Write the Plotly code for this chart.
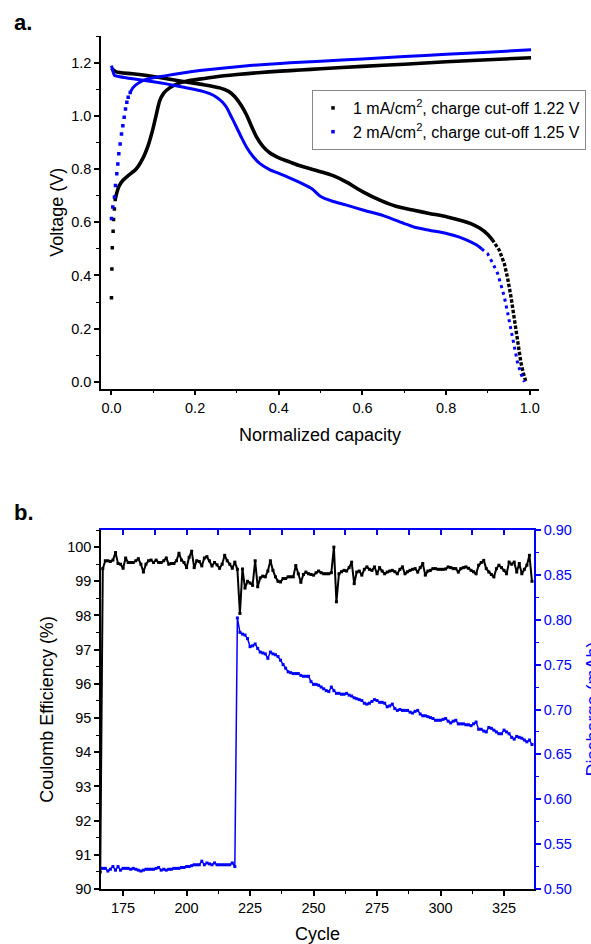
import plotly.graph_objects as go

# ---------------- Panel a: voltage profiles ----------------
# 1 mA/cm2 (black)
blk_dots_x = [0.0, 0.001, 0.002, 0.004, 0.005, 0.007, 0.009]
blk_dots_y = [0.316, 0.424, 0.504, 0.566, 0.61, 0.65, 0.685]
blk_charge_x = [0.009, 0.011, 0.018, 0.027, 0.04, 0.059, 0.075, 0.088, 0.099, 0.108, 0.115, 0.125,
                0.139, 0.16, 0.179, 0.21, 0.251, 0.3, 0.35, 0.403, 0.451, 0.5, 0.6, 0.7, 0.8, 0.9, 1.003]
blk_charge_y = [0.685, 0.70, 0.735, 0.757, 0.775, 0.80, 0.84, 0.89, 0.95, 1.01, 1.055, 1.085,
                1.105, 1.122, 1.130, 1.138, 1.147, 1.155, 1.162, 1.168, 1.172, 1.177, 1.186, 1.194, 1.203, 1.211, 1.218]
blk_dis_x = [0.0, 0.011, 0.05, 0.1, 0.15, 0.179, 0.22, 0.259, 0.28, 0.295, 0.31, 0.323, 0.335, 0.347,
             0.362, 0.379, 0.403, 0.427, 0.451, 0.5, 0.53, 0.563, 0.6, 0.643, 0.68, 0.723, 0.76, 0.803,
             0.84, 0.859, 0.88, 0.899, 0.91]
blk_dis_y = [1.178, 1.165, 1.158, 1.148, 1.135, 1.127, 1.117, 1.105, 1.092, 1.072, 1.04, 1.003, 0.96, 0.92,
             0.885, 0.86, 0.84, 0.826, 0.812, 0.79, 0.775, 0.75, 0.715, 0.682, 0.66, 0.645, 0.633, 0.62,
             0.605, 0.595, 0.578, 0.555, 0.535]
blk_tail_x = [0.91, 0.927, 0.939, 0.947, 0.955, 0.961, 0.967, 0.973, 0.979, 0.985, 0.991]
blk_tail_y = [0.535, 0.495, 0.445, 0.39, 0.32, 0.255, 0.195, 0.13, 0.07, 0.03, 0.0]

# 2 mA/cm2 (blue)
blu_dots_x = [0.0, 0.0032, 0.0072, 0.0096, 0.0128, 0.0152, 0.0176, 0.0208, 0.024, 0.0272, 0.0304,
              0.0336, 0.0368, 0.04, 0.0448]
blu_dots_y = [0.614, 0.657, 0.695, 0.738, 0.782, 0.819, 0.857, 0.894, 0.932, 0.963, 0.995,
              1.026, 1.051, 1.07, 1.088]
blu_charge_x = [0.0448, 0.051, 0.06, 0.075, 0.1, 0.131, 0.17, 0.211, 0.27, 0.331, 0.403, 0.451, 0.5,
                0.6, 0.7, 0.8, 0.9, 1.003]
blu_charge_y = [1.088, 1.105, 1.118, 1.132, 1.143, 1.151, 1.161, 1.17, 1.18, 1.189, 1.197, 1.201, 1.205,
                1.214, 1.223, 1.231, 1.239, 1.248]
blu_dis_x = [0.0, 0.004, 0.007, 0.02, 0.051, 0.1, 0.131, 0.17, 0.211, 0.235, 0.251, 0.265, 0.275, 0.287,
             0.299, 0.311, 0.323, 0.338, 0.355, 0.378, 0.403, 0.427, 0.451, 0.48, 0.499, 0.53, 0.56,
             0.603, 0.65, 0.7, 0.723, 0.76, 0.803, 0.83, 0.851, 0.872, 0.885]
blu_dis_y = [1.189, 1.165, 1.152, 1.147, 1.139, 1.128, 1.12, 1.108, 1.095, 1.083, 1.07, 1.052, 1.032, 0.995,
             0.957, 0.918, 0.882, 0.848, 0.82, 0.798, 0.782, 0.766, 0.749, 0.725, 0.698, 0.678, 0.665,
             0.645, 0.625, 0.595, 0.582, 0.57, 0.557, 0.545, 0.532, 0.515, 0.5]
blu_tail_x = [0.885, 0.899, 0.911, 0.923, 0.931, 0.939, 0.947, 0.955, 0.963, 0.971, 0.979, 0.987]
blu_tail_y = [0.5, 0.482, 0.447, 0.408, 0.365, 0.32, 0.26, 0.195, 0.13, 0.07, 0.03, 0.0]

legend_names = ["1 mA/cm<sup>2</sup>, charge cut-off 1.22 V",
                "2 mA/cm<sup>2</sup>, charge cut-off 1.25 V"]

# ---------------- Panel b: cycling ----------------
cycles = list(range(166, 337))
coulomb_eff = [
    90.5, 99.37, 99.6, 99.6, 99.58, 99.62, 99.84, 99.52, 99.5, 99.38,
    99.68, 99.55, 99.55, 99.55, 99.6, 99.66, 99.5, 99.27, 99.5, 99.6,
    99.62, 99.55, 99.62, 99.55, 99.55, 99.6, 99.68, 99.5, 99.52, 99.52,
    99.6, 99.82, 99.62, 99.55, 99.4, 99.7, 99.88, 99.4, 99.6, 99.58,
    99.45, 99.68, 99.72, 99.6, 99.45, 99.55, 99.48, 99.38, 99.5, 99.76,
    99.6, 99.5, 99.38, 99.56, 99.35, 98.06, 99.36, 98.8, 99.0, 98.95,
    98.88, 99.6, 98.84, 99.1, 99.15, 99.13, 99.3, 99.6, 99.32, 99.13,
    99.0, 98.98, 99.08, 99.08, 99.13, 99.13, 99.13, 99.46, 99.22, 98.97,
    99.2, 99.27, 99.22, 99.2, 99.18, 99.25, 99.3, 99.25, 99.22, 99.22,
    99.22, 99.25, 100.0, 98.4, 99.22, 99.28, 99.32, 99.3, 99.4, 99.56,
    98.93, 99.27, 99.3, 99.18, 99.35, 99.42, 99.35, 99.32, 99.42, 99.22,
    99.4, 99.3, 99.22, 99.27, 99.3, 99.32, 99.28, 99.22, 99.35, 99.42,
    99.22, 99.28, 99.32, 99.35, 99.37, 99.27, 99.4, 99.52, 99.18, 99.3,
    99.32, 99.37, 99.37, 99.35, 99.35, 99.35, 99.36, 99.42, 99.4, 99.37,
    99.37, 99.27, 99.37, 99.4, 99.42, 99.38, 99.32, 99.28, 99.22, 99.47,
    99.55, 99.61, 99.37, 99.27, 99.2, 99.13, 99.37, 99.47, 99.4, 99.32,
    99.22, 99.56, 99.5, 99.56, 99.27, 99.52, 99.22, 99.35, 99.47, 99.76,
    99.0]
discharge = [
    0.523, 0.523, 0.523, 0.520, 0.522, 0.525, 0.521, 0.525, 0.521, 0.523,
    0.523, 0.523, 0.522, 0.523, 0.522, 0.521, 0.520, 0.521, 0.522, 0.522,
    0.522, 0.522, 0.523, 0.524, 0.521, 0.522, 0.521, 0.522, 0.522, 0.523,
    0.523, 0.523, 0.524, 0.524, 0.525, 0.525, 0.526, 0.527, 0.527, 0.527,
    0.531, 0.527, 0.529, 0.528, 0.527, 0.529, 0.527, 0.527, 0.527, 0.527,
    0.527, 0.527, 0.529, 0.525, 0.802, 0.786, 0.784, 0.783, 0.779, 0.770,
    0.771, 0.773, 0.768, 0.764, 0.763, 0.762, 0.757, 0.764, 0.762, 0.761,
    0.759, 0.755, 0.750, 0.746, 0.742, 0.741, 0.740, 0.740, 0.740, 0.738,
    0.737, 0.737, 0.737, 0.731, 0.728, 0.728, 0.727, 0.725, 0.723, 0.721,
    0.720, 0.725, 0.721, 0.718, 0.718, 0.717, 0.717, 0.718, 0.716, 0.715,
    0.713, 0.712, 0.711, 0.710, 0.707, 0.706, 0.707, 0.709, 0.711, 0.710,
    0.708, 0.708, 0.707, 0.703, 0.704, 0.706, 0.701, 0.699, 0.700, 0.699,
    0.699, 0.699, 0.697, 0.696, 0.698, 0.699, 0.695, 0.693, 0.693, 0.692,
    0.691, 0.690, 0.688, 0.688, 0.688, 0.689, 0.690, 0.687, 0.685, 0.687,
    0.688, 0.684, 0.684, 0.684, 0.683, 0.683, 0.682, 0.684, 0.686, 0.678,
    0.678, 0.676, 0.675, 0.680, 0.679, 0.677, 0.675, 0.673, 0.673, 0.677,
    0.675, 0.673, 0.669, 0.667, 0.670, 0.669, 0.668, 0.666, 0.664, 0.666,
    0.661]

W, H = 591, 944
BLK = "#000000"
BLU = "#0000FF"
FONT = "Liberation Sans, Arial, sans-serif"

fig = go.Figure()

def solid(x, y, color, width):
    fig.add_trace(go.Scatter(x=x, y=y, mode="lines", xaxis="x", yaxis="y",
                             line=dict(color=color, width=width, shape="spline", smoothing=0.6),
                             showlegend=False, hoverinfo="skip"))

def dotted(x, y, color, width, dash):
    fig.add_trace(go.Scatter(x=x, y=y, mode="lines", xaxis="x", yaxis="y",
                             line=dict(color=color, width=width, dash=dash),
                             showlegend=False, hoverinfo="skip"))

# black series
fig.add_trace(go.Scatter(x=blk_dots_x, y=blk_dots_y, mode="markers", name=legend_names[0],
                         xaxis="x", yaxis="y", legendgroup="a",
                         marker=dict(symbol="square", size=3.5, color=BLK)))
solid(blk_charge_x, blk_charge_y, BLK, 3.6)
solid(blk_dis_x, blk_dis_y, BLK, 3.6)
dotted(blk_tail_x, blk_tail_y, BLK, 3.4, "3.5px,1.8px")
# blue series
fig.add_trace(go.Scatter(x=blu_dots_x, y=blu_dots_y, mode="markers", name=legend_names[1],
                         xaxis="x", yaxis="y", legendgroup="b",
                         marker=dict(symbol="square", size=3.5, color=BLU)))
solid(blu_charge_x, blu_charge_y, BLU, 3.0)
solid(blu_dis_x, blu_dis_y, BLU, 3.0)
dotted(blu_tail_x, blu_tail_y, BLU, 3.0, "3px,4px")

# panel b
fig.add_trace(go.Scatter(x=cycles, y=coulomb_eff, mode="lines+markers", xaxis="x2", yaxis="y2",
                         line=dict(color=BLK, width=2),
                         marker=dict(symbol="square", size=3, color=BLK),
                         showlegend=False, hoverinfo="skip"))
fig.add_trace(go.Scatter(x=cycles, y=discharge, mode="lines+markers", xaxis="x2", yaxis="y3",
                         line=dict(color=BLU, width=1.5),
                         marker=dict(symbol="square", size=3, color=BLU),
                         showlegend=False, hoverinfo="skip"))
# carrier for the blue top axis
fig.add_trace(go.Scatter(x=[cycles[0]], y=[coulomb_eff[0]], mode="markers", xaxis="x3", yaxis="y2",
                         marker=dict(opacity=0), showlegend=False, hoverinfo="skip"))

def px_x(p):
    return p / W

def px_y(p):
    return 1 - p / H

tickfont = dict(family=FONT, size=14.5, color=BLK)
titlefont = dict(family=FONT, size=18, color=BLK)

common = dict(showgrid=False, zeroline=False, showline=True, linewidth=1.5,
              ticks="outside", ticklen=5, tickwidth=1.5, automargin=False)

fig.update_layout(
    width=W, height=H,
    template="none",
    paper_bgcolor="white", plot_bgcolor="white",
    margin=dict(l=0, r=0, t=0, b=0),
    font=dict(family=FONT, size=14.5, color=BLK),
    xaxis=dict(domain=[px_x(101), px_x(539)], anchor="y", range=[-0.025, 1.022],
               tickvals=[0, 0.2, 0.4, 0.6, 0.8, 1.0], tickformat=".1f",
               minor=dict(dtick=0.1, tick0=0, ticks="outside", ticklen=3, tickwidth=1.2, tickcolor=BLK),
               linecolor=BLK, tickcolor=BLK, tickfont=tickfont,
               title=dict(text="Normalized capacity", font=titlefont, standoff=14), **common),
    yaxis=dict(domain=[px_y(388.5), px_y(36)], anchor="x", range=[-0.025, 1.30],
               tickvals=[0, 0.2, 0.4, 0.6, 0.8, 1.0, 1.2], tickformat=".1f",
               minor=dict(dtick=0.1, tick0=0, ticks="outside", ticklen=3, tickwidth=1.2, tickcolor=BLK),
               linecolor=BLK, tickcolor=BLK, tickfont=tickfont,
               title=dict(text="Voltage (V)", font=titlefont, standoff=3), **common),
    xaxis2=dict(domain=[px_x(101), px_x(534)], anchor="y2", range=[166.3, 336.8],
                tickvals=[175, 200, 225, 250, 275, 300, 325],
                minor=dict(dtick=12.5, tick0=0, ticks="outside", ticklen=3, tickwidth=1.2, tickcolor=BLK),
                linecolor=BLK, tickcolor=BLK, tickfont=tickfont,
                title=dict(text="Cycle", font=titlefont, standoff=16), **common),
    xaxis3=dict(overlaying="x2", anchor="y2", side="top", range=[166.3, 336.8],
                showgrid=False, zeroline=False, showline=True, linewidth=1.5, linecolor=BLU,
                ticks="inside", ticklen=5, tickwidth=1.5, tickcolor=BLU, dtick=12.5, tick0=0,
                showticklabels=False, automargin=False),
    yaxis2=dict(domain=[px_y(889), px_y(530)], anchor="x2", range=[90, 100.5],
                tickvals=[90, 91, 92, 93, 94, 95, 96, 97, 98, 99, 100],
                minor=dict(dtick=0.5, tick0=0, ticks="outside", ticklen=3, tickwidth=1.2, tickcolor=BLK),
                linecolor=BLK, tickcolor=BLK, tickfont=tickfont,
                title=dict(text="Coulomb Efficiency (%)", font=titlefont, standoff=9), **common),
    yaxis3=dict(overlaying="y2", anchor="x2", side="right", range=[0.5, 0.9],
                tickvals=[0.5, 0.55, 0.6, 0.65, 0.7, 0.75, 0.8, 0.85, 0.9], tickformat=".2f",
                minor=dict(dtick=0.025, tick0=0, ticks="outside", ticklen=3, tickwidth=1.2, tickcolor=BLU),
                linecolor=BLU, tickcolor=BLU, tickfont=dict(family=FONT, size=14.5, color=BLU),
                **common),
    legend=dict(x=px_x(312), y=px_y(90), xanchor="left", yanchor="top",
                bgcolor="white", bordercolor="#888888", borderwidth=1,
                font=dict(family=FONT, size=16, color=BLK), tracegroupgap=0,
                itemsizing="trace"),
    annotations=[
        dict(text="<b>a.</b>", xref="paper", yref="paper", x=px_x(12), y=px_y(22),
             xanchor="left", yanchor="middle", showarrow=False,
             font=dict(family=FONT, size=22, color=BLK)),
        dict(text="<b>b.</b>", xref="paper", yref="paper", x=px_x(12), y=px_y(512),
             xanchor="left", yanchor="middle", showarrow=False,
             font=dict(family=FONT, size=22, color=BLK)),
        dict(text="Discharge (mAh)", xref="paper", yref="paper", x=px_x(592), y=px_y(709.5),
             xanchor="center", yanchor="middle", showarrow=False, textangle=-90,
             font=dict(family=FONT, size=18, color=BLU)),
    ],
)

fig.write_html("out.html", config={"displayModeBar": False},
               post_script="document.body.style.margin='0';")
